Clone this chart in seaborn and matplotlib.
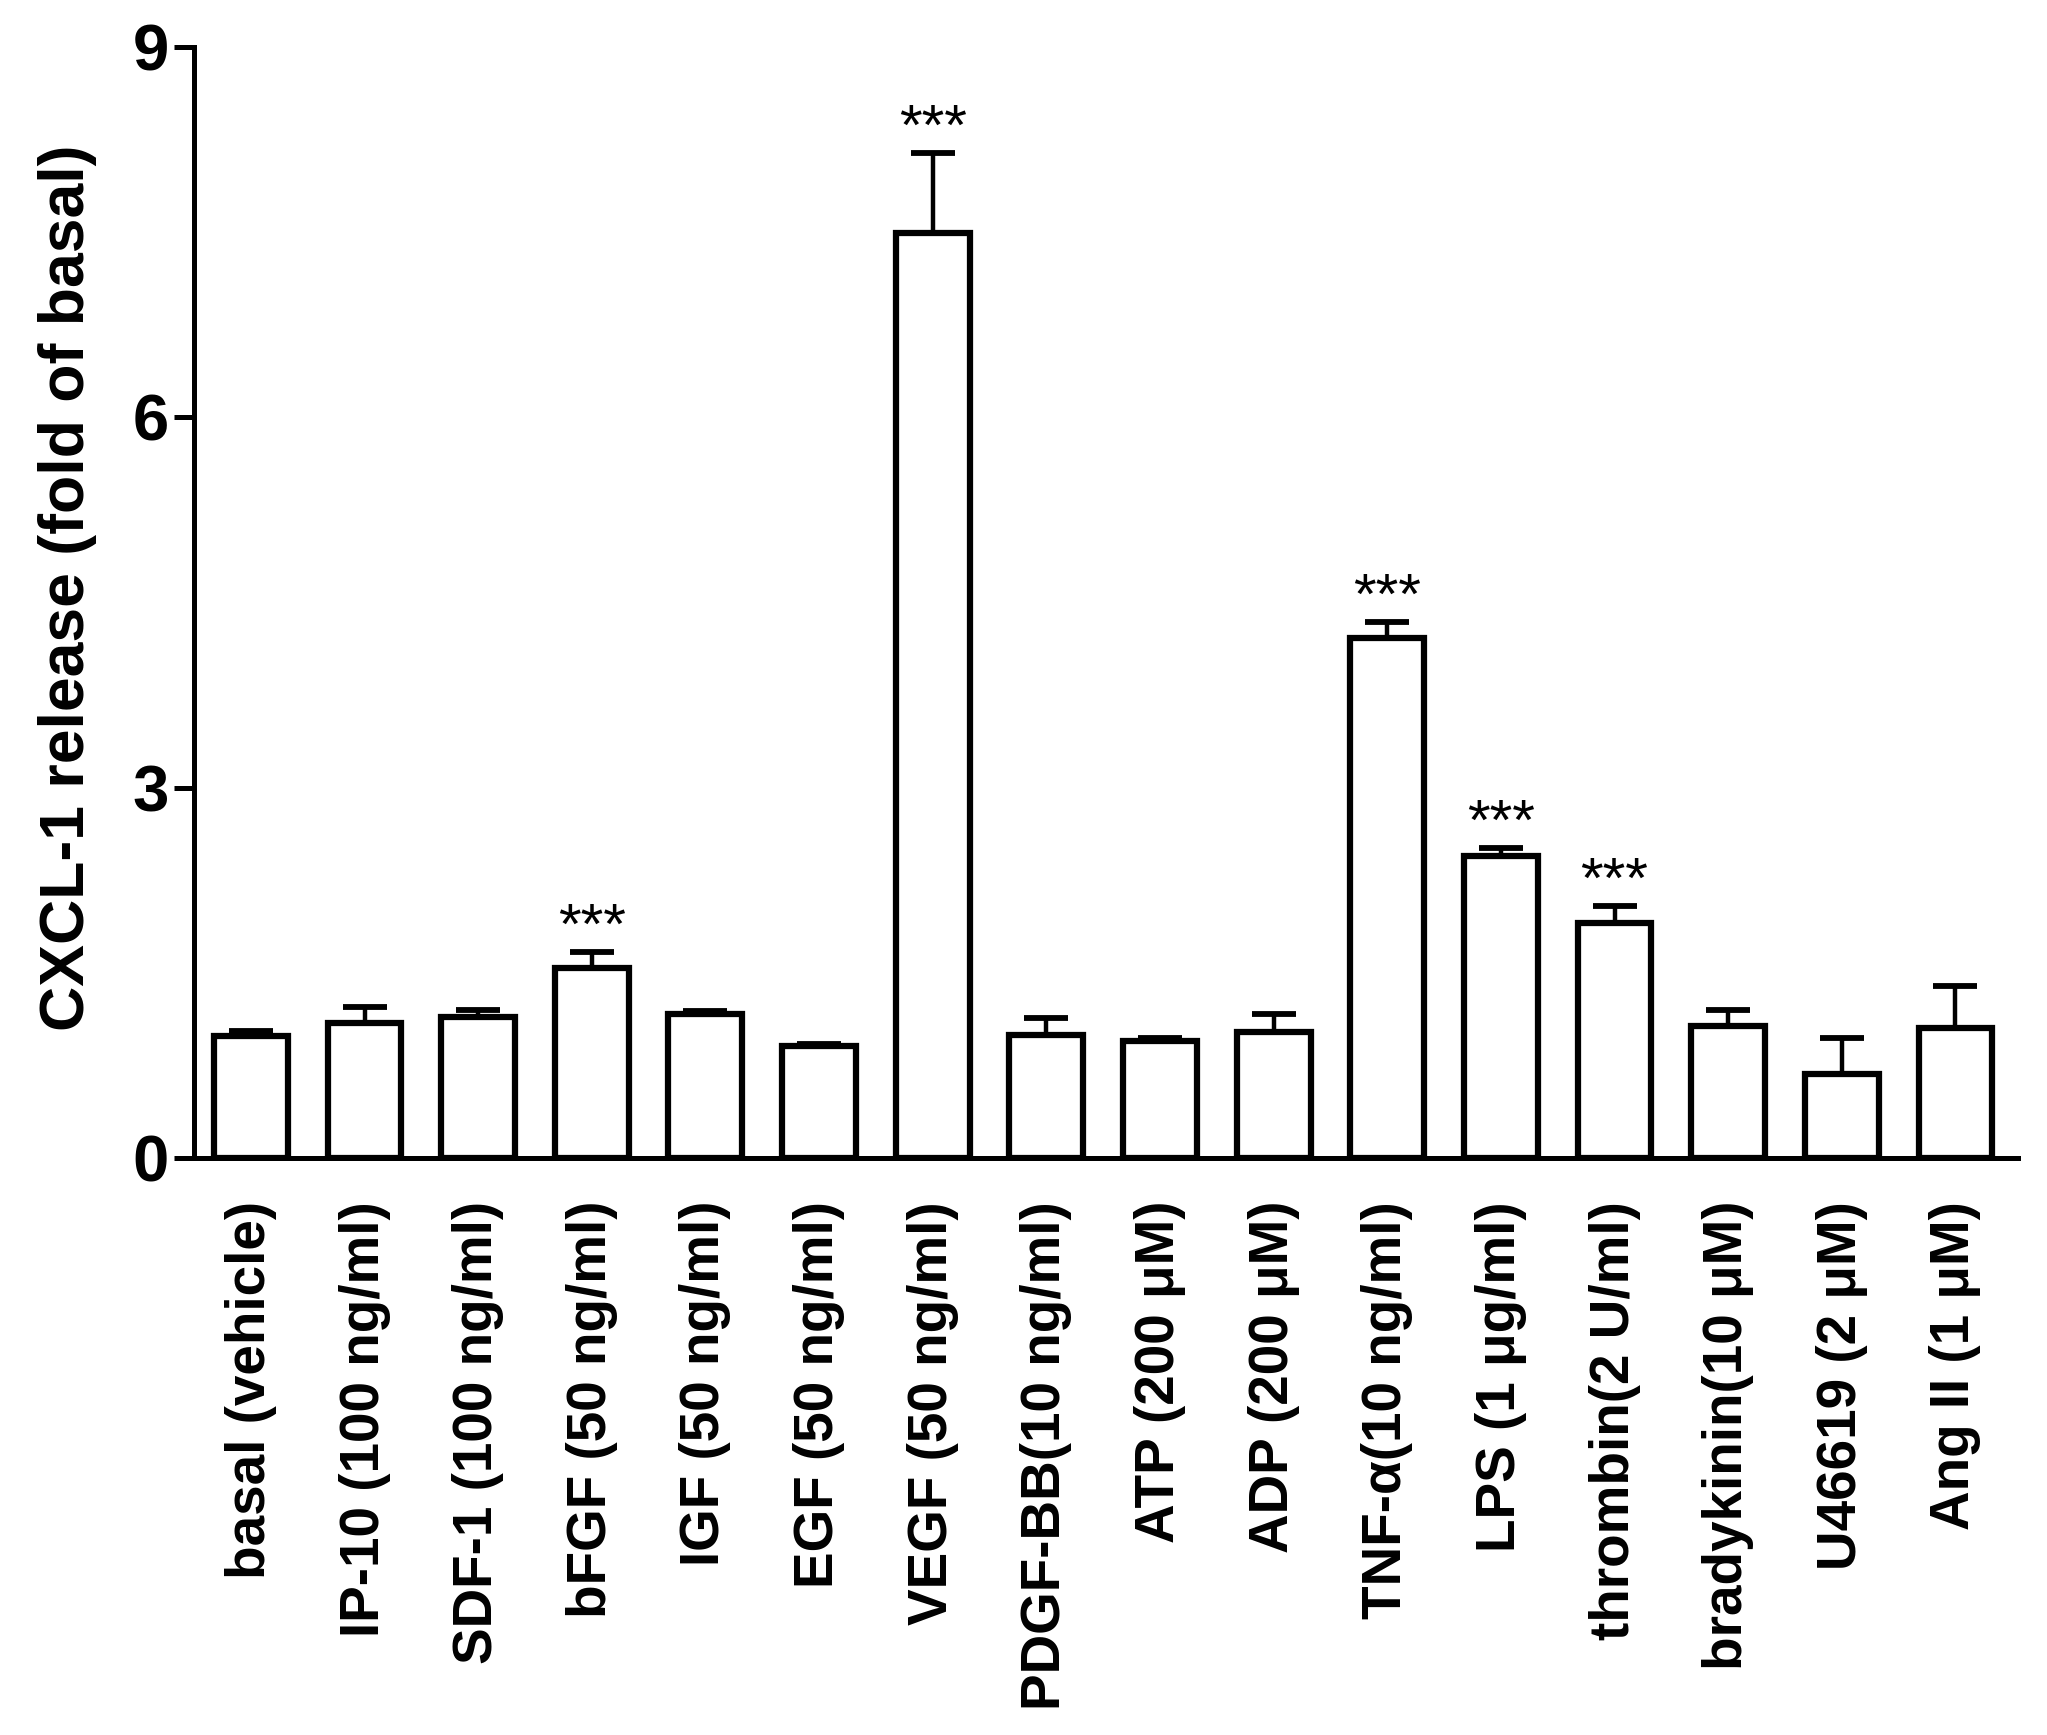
import matplotlib
matplotlib.use("Agg")
import matplotlib.pyplot as plt
import seaborn as sns
import pandas as pd
import numpy as np

labels = ["basal (vehicle)", "IP-10 (100 ng/ml)", "SDF-1 (100 ng/ml)", "bFGF (50 ng/ml)",
          "IGF (50 ng/ml)", "EGF (50 ng/ml)", "VEGF (50 ng/ml)", "PDGF-BB(10 ng/ml)",
          "ATP (200 \u03bcM)", "ADP (200 \u03bcM)", "TNF-\u03b1(10 ng/ml)", "LPS (1 \u03bcg/ml)",
          "thrombin(2 U/ml)", "bradykinin(10 \u03bcM)", "U46619 (2 \u03bcM)", "Ang II (1 \u03bcM)"]
means = [0.99, 1.09, 1.14, 1.54, 1.17, 0.91, 7.49, 1.00, 0.95, 1.02, 4.21, 2.45, 1.90, 1.07, 0.68, 1.05]
sem = [0.04, 0.13, 0.06, 0.13, 0.02, 0.01, 0.65, 0.13, 0.02, 0.15, 0.13, 0.06, 0.14, 0.13, 0.29, 0.34]
signif = ["", "", "", "***", "", "", "***", "", "", "", "***", "***", "***", "", "", ""]

df = pd.DataFrame({"label": labels, "value": means})

sns.set_style("ticks")
plt.rcParams['font.family'] = ['Liberation Sans', 'DejaVu Sans']
plt.rcParams['text.color'] = 'black'
plt.rcParams['xtick.color'] = 'black'
plt.rcParams['ytick.color'] = 'black'
plt.rcParams['axes.labelcolor'] = 'black'

fig = plt.figure(figsize=(20.47, 17.35), dpi=100)
ax = fig.add_axes([0.0948, 0.3326, 0.891, 0.6403])

sns.barplot(data=df, x="label", y="value", color="white", edgecolor="black",
            linewidth=4.5, width=0.65, errorbar=None, ax=ax, zorder=2)
for p in ax.patches:
    p.set_facecolor("white")

xpos = np.arange(len(labels))
ax.errorbar(xpos, means, yerr=[np.zeros(len(sem)), sem], fmt="none", ecolor="black",
            elinewidth=3.2, capsize=15.5, capthick=4.2, zorder=1)

for x, m, s, t in zip(xpos, means, sem, signif):
    if t:
        ax.text(x, m + s - 0.03, t, ha="center", va="bottom", fontsize=42,
                fontweight="normal", color="black")

ax.set_ylim(0, 9)
ax.set_xlim(-0.50, 15.55)
ax.set_yticks([0, 3, 6, 9])
ax.set_yticklabels(["0", "3", "6", "9"], fontsize=47, fontweight="bold")
ax.tick_params(axis="y", length=14.4, width=3.6, pad=3.6)
ax.tick_params(axis="x", length=0, pad=31)
ax.set_xticks(xpos)
ax.set_xticklabels(labels, rotation=90, fontsize=39.5, fontweight="bold", ha="center", va="top")
ax.set_xlabel("")
ax.set_ylabel("CXCL-1 release (fold of basal)", fontsize=45, fontweight="bold")
ax.yaxis.set_label_coords(-0.053, 0.513)

for side in ["top", "right"]:
    ax.spines[side].set_visible(False)
for side in ["left", "bottom"]:
    ax.spines[side].set_linewidth(3.6)
    ax.spines[side].set_color("black")

fig.savefig("out.png", dpi=100, facecolor="white")
